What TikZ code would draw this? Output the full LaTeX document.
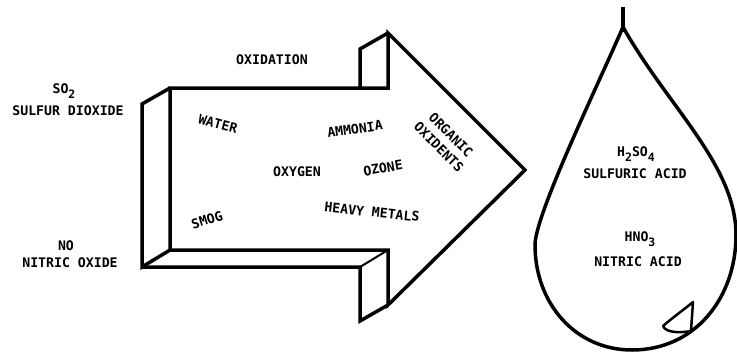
\documentclass[tikz,border=0pt]{standalone}
\usepackage{fontspec}
\newfontfamily\lf{DejaVu Sans Mono}
\newcommand{\sbs}[1]{\raisebox{-4.5pt}{\fontsize{11.5}{12}\selectfont #1}}
\begin{document}
\begin{tikzpicture}[x=1pt,y=-1pt,
  edge/.style={line width=3.5pt, line join=miter},
  thinedge/.style={line width=2pt},
  lbl/.style={font=\lf\bfseries\fontsize{13.2}{15}\selectfont, inner sep=0pt, text=black}]
\useasboundingbox (0,0) rectangle (737,354);
% front face corners
\coordinate (fA) at (170,88);
\coordinate (fB) at (388,88);
\coordinate (fC) at (388,33);
\coordinate (fT) at (525,170);
\coordinate (fD) at (388,305);
\coordinate (fE) at (388,250);
\coordinate (fF) at (170,250);
% back face corners (offset -28,+16)
\coordinate (bA) at (142,104);
\coordinate (bC) at (360,49);
\coordinate (bCm) at (360,88);
\coordinate (bF) at (142,267);
\coordinate (bE) at (360,267);
\coordinate (bD) at (360,321);
% arrow
\draw[edge] (fA) -- (fB) -- (fC) -- (fT) -- (fD) -- (fE) -- (fF) -- cycle;
\draw[edge] (fA) -- (bA) -- (bF) -- (fF);
\draw[edge] (bF) -- (bE) -- (bD) -- (fD);
\draw[thinedge] (fE) -- (bE);
\draw[edge] (fC) -- (bC) -- (bCm);
% drop
\draw[edge, line join=round] (623,27) .. controls (668,107) and (736,165) .. (736,235)
  .. controls (736,298) and (695,350) .. (632,350)
  .. controls (575,350) and (535,303) .. (535,245)
  .. controls (535,215) and (597,87) .. (623,27) -- cycle;
\draw[line width=4.5pt] (623,7) -- (623,32);
% highlight
\draw[line width=2.5pt, line join=round] (693,302) -- (691,331)
  .. controls (680,333) and (666,333) .. (663,326)
  .. controls (672,318) and (686,308) .. cycle;
% labels
\node[lbl] (oxid) at (272,60) {OXIDATION};
\node[lbl] (so2) at (64,91) {SO\sbs{2}};
\node[lbl] (sdiox) at (68,111) {SULFUR DIOXIDE};
\node[lbl] (no) at (66,246) {NO};
\node[lbl] (nox) at (70,263) {NITRIC OXIDE};
\node[lbl, rotate=-15] (water) at (218,124) {WATER};
\node[lbl, rotate=8] (ammonia) at (355,129) {AMMONIA};
\node[lbl] (oxygen) at (297,172) {OXYGEN};
\node[lbl, rotate=10] (ozone) at (383,168) {OZONE};
\node[lbl, rotate=17] (smog) at (207,220) {SMOG};
\node[lbl, rotate=-6] (heavy) at (372,212) {HEAVY METALS};
\node[lbl, rotate=-45, align=center] (org) at (445,141) {ORGANIC\\[2pt]OXIDENTS};
\node[lbl] (h2so4) at (636,154) {H\sbs{2}SO\sbs{4}};
\node[lbl] (sacid) at (635,174) {SULFURIC ACID};
\node[lbl] (hno3) at (640,239) {HNO\sbs{3}};
\node[lbl] (nacid) at (638,262) {NITRIC ACID};
\end{tikzpicture}
\end{document}
